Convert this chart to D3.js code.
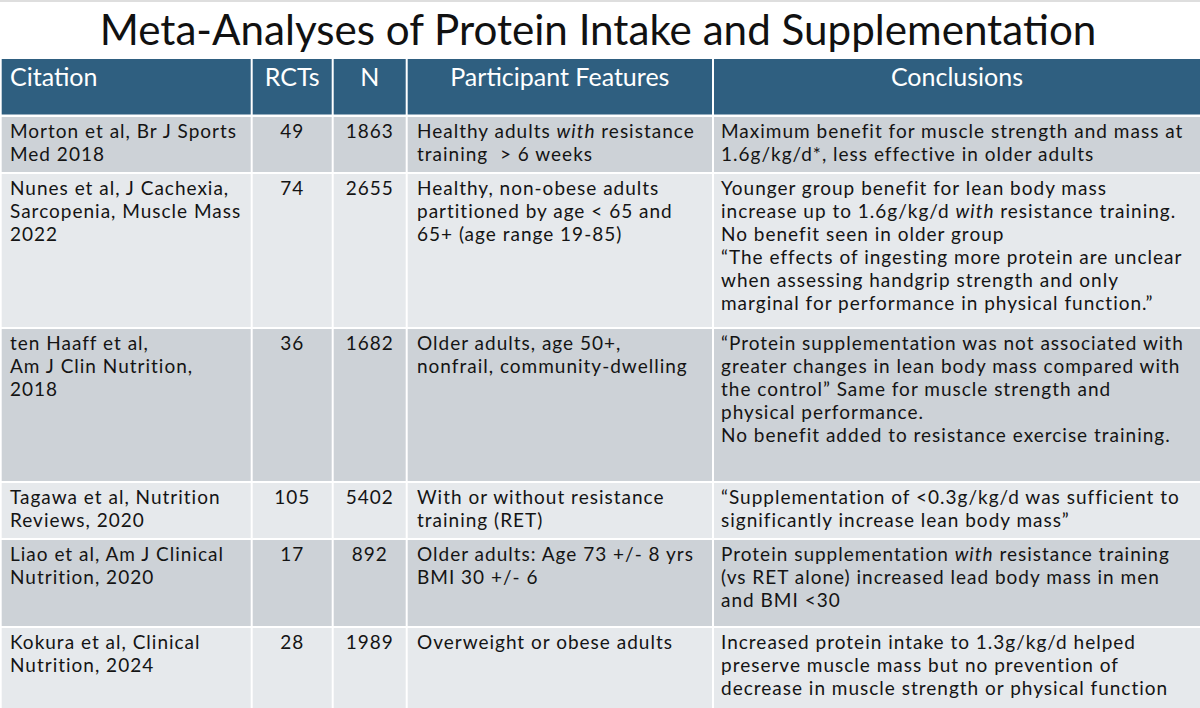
<!DOCTYPE html>
<html>
<head>
<meta charset="utf-8">
<script src="https://cdn.jsdelivr.net/npm/d3@7"></script>
<style>
  html, body { margin: 0; padding: 0; background: #fff; }
  svg { display: block; }
  text { white-space: pre; }
</style>
</head>
<body>
<svg id="chart" width="1200" height="708"></svg>
<script>
// table content, one entry per study (line breaks as in the slide, *x* = italic)
var title = "Meta-Analyses of Protein Intake and Supplementation";
var headers = ["Citation", "RCTs", "N", "Participant Features", "Conclusions"];

var citations = [
  ["Morton et al, Br J Sports", "Med 2018"],
  ["Nunes et al, J Cachexia,", "Sarcopenia, Muscle Mass", "2022"],
  ["ten Haaff et al,", "Am J Clin Nutrition,", "2018"],
  ["Tagawa et al, Nutrition", "Reviews, 2020"],
  ["Liao et al, Am J Clinical", "Nutrition, 2020"],
  ["Kokura et al, Clinical", "Nutrition, 2024"]
];
var rcts = [49, 74, 36, 105, 17, 28];
var participants = [1863, 2655, 1682, 5402, 892, 1989];
var features = [
  ["Healthy adults *with* resistance", "training  > 6 weeks"],
  ["Healthy, non-obese adults", "partitioned by age < 65 and", "65+ (age range 19-85)"],
  ["Older adults, age 50+,", "nonfrail, community-dwelling"],
  ["With or without resistance", "training (RET)"],
  ["Older adults: Age 73 +/- 8 yrs", "BMI 30 +/- 6"],
  ["Overweight or obese adults"]
];
var conclusions = [
  ["Maximum benefit for muscle strength and mass at", "1.6g/kg/d*, less effective in older adults"],
  ["Younger group benefit for lean body mass", "increase up to 1.6g/kg/d *with* resistance training.",
   "No benefit seen in older group", "\u201CThe effects of ingesting more protein are unclear",
   "when assessing handgrip strength and only", "marginal for performance in physical function.\u201D"],
  ["\u201CProtein supplementation was not associated with", "greater changes in lean body mass compared with",
   "the control\u201D Same for muscle strength and", "physical performance.",
   "No benefit added to resistance exercise training."],
  ["\u201CSupplementation of <0.3g/kg/d was sufficient to", "significantly increase lean body mass\u201D"],
  ["Protein supplementation *with* resistance training", "(vs RET alone) increased lead body mass in men", "and BMI <30"],
  ["Increased protein intake to 1.3g/kg/d helped", "preserve muscle mass but no prevention of",
   "decrease in muscle strength or physical function"]
];

// layout
var width = 1200, height = 708;
var font = "Lato, 'Noto Sans', sans-serif";
var colEdges = [0.7, 251.7, 332.7, 406.7, 713, 1201];
var rowEdges = [59, 116, 173, 328, 482, 539, 627, 710];
var gap = 2, lineH = 23, bodySize = 19;

var svg = d3.select("#chart");

function measure(text, size) {
  var t = svg.append("text").attr("font-family", font).attr("font-size", size).text(text);
  var w = t.node().getComputedTextLength();
  t.remove();
  return w;
}
// title/header: size chosen so a sample string spans the measured width
var titleSize = 100 * 997 / measure(title, 100);
var headSize = 100 * 55 / measure("RCTs", 100);
// body: keep the size, widen with letter spacing (the slide font is wider)
var sample = "Maximum benefit for muscle strength and mass at";
var bodySpacing = (462 - measure(sample, bodySize)) / sample.length;

var x = d3.scaleOrdinal().domain(headers).range(colEdges.slice(0, 5));
var colW = d3.scaleOrdinal().domain(headers).range(d3.pairs(colEdges).map(function(p) { return p[1] - p[0]; }));
var y = d3.scaleOrdinal().domain(d3.range(7)).range(rowEdges.slice(0, 7));
var rowH = d3.scaleOrdinal().domain(d3.range(7)).range(d3.pairs(rowEdges).map(function(p) { return p[1] - p[0]; }));

// thin frame line at the top of the slide
svg.append("rect").attr("x", 0).attr("y", 0).attr("width", width).attr("height", 2).attr("fill", "#dedede");

svg.append("text")
  .attr("x", width / 2 - 2).attr("y", 45)
  .attr("text-anchor", "middle")
  .attr("font-family", font).attr("font-size", titleSize)
  .attr("fill", "#111")
  .text(title);

// header band
var head = svg.append("g");
head.selectAll("rect").data(headers).enter().append("rect")
  .attr("x", function(d, i) { return x(d) + (i ? gap / 2 : 1); })
  .attr("y", y(0))
  .attr("width", function(d) { return colW(d) - gap; })
  .attr("height", rowH(0) - gap / 2 - 0.5)
  .attr("fill", "#2f5f80");
head.selectAll("text").data(headers).enter().append("text")
  .attr("x", function(d, i) { return i ? x(d) + colW(d) / 2 : 10; })
  .attr("y", 85.5)
  .attr("text-anchor", function(d, i) { return i ? "middle" : "start"; })
  .attr("font-family", font).attr("font-size", headSize)
  .attr("fill", "#fff")
  .text(function(d) { return d; });

// body rows
var rows = citations.map(function(c, i) {
  return { i: i, cells: [c, [String(rcts[i])], [String(participants[i])], features[i], conclusions[i]] };
});
var rowColor = ["#cdd2d7", "#e6e9ec"];

var row = svg.selectAll("g.row").data(rows).enter().append("g").attr("class", "row");

row.selectAll("rect").data(function(r) { return headers.map(function(h, j) { return { h: h, j: j, r: r.i + 1 }; }); })
  .enter().append("rect")
  .attr("x", function(d) { return x(d.h) + (d.j ? gap / 2 : 1); })
  .attr("y", function(d) { return y(d.r) + gap / 2; })
  .attr("width", function(d) { return colW(d.h) - gap; })
  .attr("height", function(d) { return rowH(d.r) - gap; })
  .attr("fill", function(d) { return rowColor[d.r % 2 ? 0 : 1]; });

var textLeft = [10, 0, 0, 417, 721];

row.each(function(r) {
  var g = d3.select(this);
  r.cells.forEach(function(lines, j) {
    var h = headers[j];
    var centered = j === 1 || j === 2;
    lines.forEach(function(line, k) {
      var t = g.append("text")
        .attr("x", centered ? x(h) + colW(h) / 2 : textLeft[j])
        .attr("y", y(r.i + 1) + 22 + k * lineH)
        .attr("font-family", font).attr("font-size", bodySize)
        .attr("letter-spacing", bodySpacing)
        .attr("fill", "#141414")
        .attr("text-anchor", centered ? "middle" : "start");
      var parts = line.split("*");
      // a lone "*" (footnote mark) is not italic markup
      if (parts.length % 2 === 0) parts = [line];
      parts.forEach(function(p, m) {
        t.append("tspan").attr("font-style", m % 2 ? "italic" : "normal").text(p);
      });
    });
  });
});
</script>
</body>
</html>
